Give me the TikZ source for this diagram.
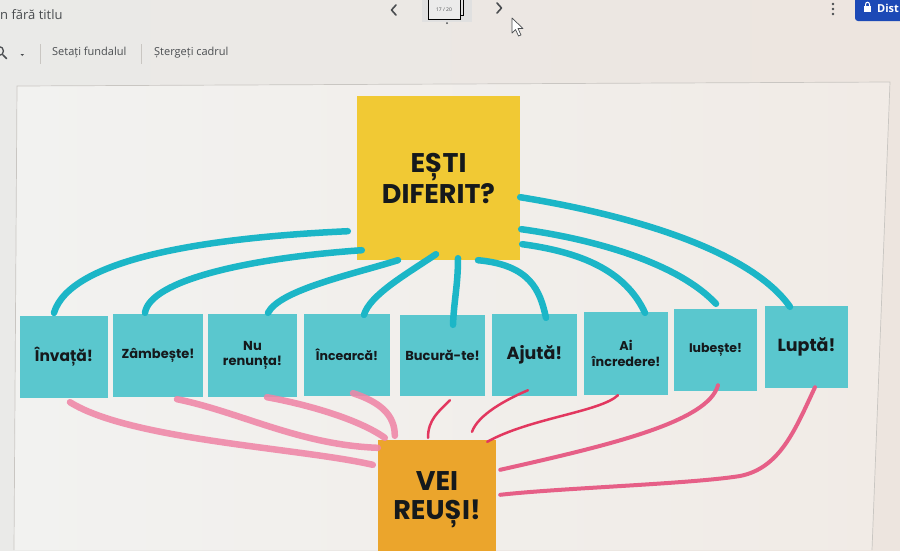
\documentclass[tikz,border=0pt]{standalone}
\usepackage{fontspec}
\setmainfont{Open Sans}
\newfontfamily\pop{Poppins}
\definecolor{bgL}{HTML}{EAEAE8}
\definecolor{bgR}{HTML}{EDE5DF}
\definecolor{cvL}{HTML}{F2F2F0}
\definecolor{cvR}{HTML}{F1EBE6}
\definecolor{framec}{HTML}{C9C6C2}
\definecolor{uigray}{HTML}{4A4D50}
\definecolor{ink}{HTML}{15191C}
\definecolor{styellow}{HTML}{F1C934}
\definecolor{stcyan}{HTML}{5AC7CE}
\definecolor{storange}{HTML}{EBA52C}
\definecolor{mkcyan}{HTML}{1CB6C7}
\definecolor{mkpink}{HTML}{EF86A7}
\definecolor{mkred}{HTML}{E2375F}
\definecolor{mkred2}{HTML}{E65F87}
\definecolor{btnblue}{HTML}{1C49B6}
\begin{document}
\begin{tikzpicture}[x=1pt,y=-1pt,
  uitext/.style={text=uigray, inner sep=0pt, anchor=west, font=\fontsize{11}{13}\selectfont},
  sep/.style={draw=framec, line width=0.8pt},
  yellowbox/.style={fill=styellow, minimum width=163pt, minimum height=164pt, inner sep=0pt, align=center, text=ink, font=\pop\bfseries\fontsize{27}{31}\selectfont},
  orangebox/.style={fill=storange, minimum width=118pt, minimum height=120pt, inner sep=0pt, align=center, text=ink, font=\pop\bfseries\fontsize{27}{29}\selectfont},
  cybox/.style={fill=stcyan, inner sep=0pt, align=center, text=ink, font=\pop\bfseries\fontsize{13}{15}\selectfont},
  mid/.style={font=\pop\bfseries\fontsize{12.5}{15}\selectfont},
  big/.style={font=\pop\bfseries\fontsize{17.5}{20}\selectfont},
  cymark/.style={draw=mkcyan, line width=6.5pt, line cap=round, line join=round},
  pinkmark/.style={draw=mkpink, line width=6.5pt, line cap=round, opacity=0.88},
  redthin/.style={draw=mkred, line width=2.5pt, line cap=round},
  redmid/.style={draw=mkred2, line width=4pt, line cap=round}
]
\useasboundingbox (0,0) rectangle (900,550);
\clip (0,0) rectangle (900,550);
% backdrop and canvas
\shade[left color=bgL, right color=bgR] (0,0) rectangle (900,550);
\shade[left color=cvL, right color=cvR] (17,86) -- (890,82) -- (872,550) -- (14,550) -- cycle;
\draw[framec, line width=0.7pt] (14,550) -- (17,86) -- (890,82) -- (872,550);
% toolbar
\node[uitext, font=\fontsize{13}{15}\selectfont] (title) at (0,15) {n fără titlu};
\draw[uigray, line width=1.3pt] (-1,51) circle[radius=4.5];
\draw[uigray, line width=1.6pt, line cap=round] (3,55) -- (6.5,58.5);
\fill[uigray] (20.5,54) -- (24,54) -- (22.25,56) -- cycle;
\draw[sep] (40,44) -- (40,64);
\node[uitext] (bgset) at (52,53) {Setați fundalul};
\draw[sep] (141,44) -- (141,64);
\node[uitext] (clearf) at (154,53) {Ștergeți cadrul};
\draw[uigray, line width=1.6pt, line cap=round, line join=round] (396,5) -- (391.5,10) -- (396,15);
\fill[black!12] (422,-2) rectangle (472,22);
\draw[black, line width=1pt, fill=white!92!black] (428,-2) rectangle (460,19);
\node[inner sep=0pt, font=\fontsize{5}{6}\selectfont, text=uigray] (slide) at (444,10) {17 / 20};
\draw[black, line width=1pt] (463,0) -- (463,15) -- (461,15);
\fill[uigray] (447,23) circle[radius=1];
\draw[uigray, line width=1.6pt, line cap=round, line join=round] (497,3) -- (501.5,8) -- (497,13);
\draw[uigray, line width=0.7pt, fill=white, line join=round] (512,18) -- (512,33) -- (515.5,29.5) -- (518.5,36) -- (521,35) -- (518,28.5) -- (523,28.5) -- cycle;
\foreach \yy in {4,9,14} \fill[uigray] (833,\yy) circle[radius=1.4];
\fill[btnblue, rounded corners=3pt] (855,-6) rectangle (906,21);
\fill[white] (864,6) rectangle (871,12);
\draw[white, line width=1pt] (865.5,6.5) -- (865.5,4.5) .. controls (865.5,1.5) and (869.5,1.5) .. (869.5,4.5) -- (869.5,6.5);
\node[inner sep=0pt, anchor=west, text=white, font=\bfseries\fontsize{11}{13}\selectfont] (dist) at (877,8) {Dist};
% sticky notes
\node[yellowbox] (top) at (438.5,178) {EȘTI\\DIFERIT?};
\node[cybox, big, font=\pop\bfseries\fontsize{15.5}{18}\selectfont, minimum width=88pt, minimum height=82pt] (s1) at (64,357) {Învață!};
\node[cybox, minimum width=90pt, minimum height=83pt] (s2) at (158,355.5) {Zâmbește!};
\node[cybox, minimum width=89pt, minimum height=83pt, font=\pop\bfseries\fontsize{13}{14.5}\selectfont] (s3) at (252.5,355.5) {Nu\\renunța!};
\node[cybox, mid, minimum width=86pt, minimum height=82pt] (s4) at (347,355) {Încearcă!};
\node[cybox, minimum width=85pt, minimum height=81pt] (s5) at (442.5,355.5) {Bucură-te!};
\node[cybox, big, minimum width=85pt, minimum height=82pt] (s6) at (534.5,355) {Ajută!};
\node[cybox, minimum width=84pt, minimum height=83pt, font=\pop\bfseries\fontsize{12.8}{16}\selectfont] (s7) at (626,353.5) {Ai\\încredere!};
\node[cybox, mid, minimum width=83pt, minimum height=82pt] (s8) at (715.5,350) {Iubește!};
\node[cybox, big, minimum width=83pt, minimum height=82pt] (s9) at (806.5,347) {Luptă!};
\node[orangebox] (bot) at (437,500) {VEI\\REUȘI!};
% cyan marker strokes
\draw[cymark] ([shift={(-9,-29)}]top.south west) .. controls (200,238) and (70,260) .. ([shift={(-10,-3)}]s1.north);
\draw[cymark] ([shift={(5,-10)}]top.south west) .. controls (250,258) and (150,280) .. ([shift={(-13,-1)}]s2.north);
\draw[cymark] ([shift={(-40.5,0)}]top.south) .. controls (350,275) and (280,290) .. ([shift={(15.5,-1)}]s3.north);
\draw[cymark] ([shift={(-2.5,-6)}]top.south) .. controls (405,275) and (370,295) .. ([shift={(17,1)}]s4.north);
\draw[cymark] ([shift={(19.5,-2)}]top.south) .. controls (458,285) and (454,300) .. ([shift={(10.5,10)}]s5.north);
\draw[cymark] ([shift={(39.5,0)}]top.south) .. controls (530,265) and (540,290) .. ([shift={(11.5,4)}]s6.north);
\draw[cymark] ([shift={(2,-16)}]top.south east) .. controls (580,252) and (625,270) .. ([shift={(19,1)}]s7.north);
\draw[cymark] ([shift={(1,-31)}]top.south east) .. controls (600,240) and (680,265) .. ([shift={(0.5,-5)}]s8.north);
\draw[cymark] ([shift={(0,-63)}]top.south east) .. controls (630,215) and (750,250) .. ([shift={(-16.5,1)}]s9.north);
% pink / red marker strokes
\draw[pinkmark] ([shift={(6,4)}]s1.south) .. controls (130,440) and (300,448) .. ([shift={(-5,25)}]bot.north west);
\draw[pinkmark] ([shift={(19,2)}]s2.south) .. controls (240,412) and (300,445) .. ([shift={(0,8)}]bot.north west);
\draw[pinkmark] ([shift={(14.5,0)}]s3.south) .. controls (310,405) and (360,420) .. ([shift={(7,-2)}]bot.north west);
\draw[pinkmark] ([shift={(6,-3)}]s4.south) .. controls (380,402) and (395,415) .. ([shift={(17,-4)}]bot.north west);
\draw[redthin] ([shift={(7.5,4)}]s5.south) .. controls (438,412) and (428,420) .. ([shift={(-9,-2)}]bot.north);
\draw[redthin] ([shift={(-6.5,-6)}]s6.south) .. controls (505,400) and (478,415) .. ([shift={(35,-8)}]bot.north);
\draw[redthin] ([shift={(-8,0)}]s7.south) .. controls (600,412) and (530,418) .. ([shift={(-9,2)}]bot.north east);
\draw[redmid] ([shift={(2.5,-6)}]s8.south) .. controls (708,422) and (610,445) .. ([shift={(4,30)}]bot.north east);
\draw[redmid] ([shift={(8.5,-1)}]s9.south) .. controls (795,430) and (780,468) .. (740,476) .. controls (690,484) and (560,488) .. ([shift={(4,55)}]bot.north east);
\end{tikzpicture}
\end{document}
